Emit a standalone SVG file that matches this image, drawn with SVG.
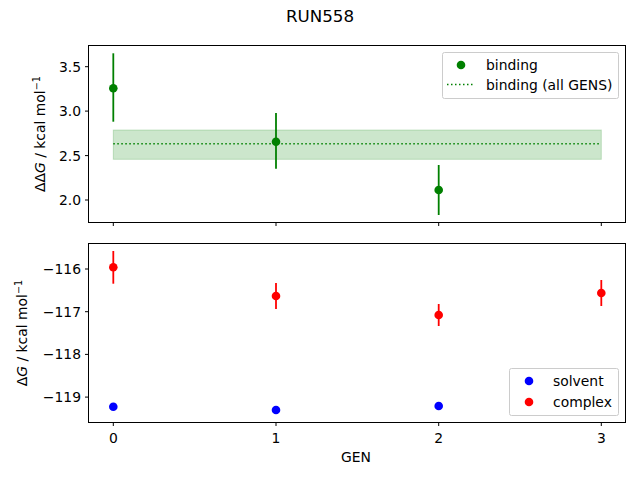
<svg xmlns="http://www.w3.org/2000/svg" width="640" height="480" viewBox="0 0 640 480">
<style>
text{font-family:"DejaVu Sans",sans-serif;font-size:13.9px;fill:#000}
.ax{fill:none;stroke:#000;stroke-width:1}
.tk{stroke:#000;stroke-width:1}
.eg{stroke:#008000;stroke-width:1.8}
.er{stroke:#ff0000;stroke-width:1.8}
.r{text-anchor:end}
.m{text-anchor:middle}
</style>
<rect width="640" height="480" fill="#fff"/>
<text x="320" y="22" class="m" style="font-size:16.7px">RUN558</text>
<g id="top">
<rect x="113.3" y="130" width="488" height="29.3" fill="#008000" fill-opacity="0.2" stroke="#008000" stroke-opacity="0.2"/>
<line x1="113.3" y1="143.7" x2="601.3" y2="143.7" stroke="#008000" stroke-width="1.5" stroke-dasharray="1.5,2.5"/>
<line class="eg" x1="113.3" y1="53.3" x2="113.3" y2="121.7"/>
<line class="eg" x1="276" y1="113" x2="276" y2="168.7"/>
<line class="eg" x1="438.7" y1="165" x2="438.7" y2="215"/>
<circle cx="113.3" cy="88.3" r="4.3" fill="#008000"/>
<circle cx="276" cy="141.7" r="4.3" fill="#008000"/>
<circle cx="438.7" cy="190" r="4.3" fill="#008000"/>
<rect class="ax" x="88.5" y="45.5" width="537" height="177"/>
<g class="tk">
<line x1="88.5" y1="66.7" x2="85" y2="66.7"/><line x1="88.5" y1="111.1" x2="85" y2="111.1"/>
<line x1="88.5" y1="155.6" x2="85" y2="155.6"/><line x1="88.5" y1="200" x2="85" y2="200"/>
<line x1="113.3" y1="222.5" x2="113.3" y2="226"/><line x1="276" y1="222.5" x2="276" y2="226"/>
<line x1="438.7" y1="222.5" x2="438.7" y2="226"/><line x1="601.3" y1="222.5" x2="601.3" y2="226"/>
</g>
<text x="81" y="71.7" class="r">3.5</text><text x="81" y="116.1" class="r">3.0</text>
<text x="81" y="160.6" class="r">2.5</text><text x="81" y="205" class="r">2.0</text>
<text transform="translate(45,134) rotate(-90)" class="m">ΔΔ<tspan font-style="italic">G</tspan> / kcal mol<tspan dy="-5" style="font-size:9.7px">−1</tspan></text>
<g id="legend-top">
<rect x="442.5" y="52.5" width="176" height="46" rx="2" fill="#fff" fill-opacity="0.8" stroke="#ccc"/>
<circle cx="461" cy="65" r="4.3" fill="#008000"/>
<text x="486" y="70">binding</text>
<line x1="447" y1="84.5" x2="475" y2="84.5" stroke="#008000" stroke-width="1.5" stroke-dasharray="1.5,2.5"/>
<text x="486" y="90">binding (all GENS)</text>
</g>
</g>
<g id="bottom">
<line class="er" x1="113.3" y1="251" x2="113.3" y2="283.7"/>
<line class="er" x1="276" y1="283" x2="276" y2="309"/>
<line class="er" x1="438.7" y1="304" x2="438.7" y2="326"/>
<line class="er" x1="601.3" y1="280" x2="601.3" y2="306"/>
<circle cx="113.3" cy="406.7" r="4.3" fill="#0000ff"/>
<circle cx="276" cy="410" r="4.3" fill="#0000ff"/>
<circle cx="438.7" cy="406" r="4.3" fill="#0000ff"/>
<circle cx="113.3" cy="267.3" r="4.3" fill="#ff0000"/>
<circle cx="276" cy="296" r="4.3" fill="#ff0000"/>
<circle cx="438.7" cy="315" r="4.3" fill="#ff0000"/>
<circle cx="601.3" cy="293" r="4.3" fill="#ff0000"/>
<rect class="ax" x="88.5" y="243.5" width="537" height="179"/>
<g class="tk">
<line x1="88.5" y1="269" x2="85" y2="269"/><line x1="88.5" y1="311.7" x2="85" y2="311.7"/>
<line x1="88.5" y1="354.4" x2="85" y2="354.4"/><line x1="88.5" y1="397.1" x2="85" y2="397.1"/>
<line x1="113.3" y1="422.5" x2="113.3" y2="426"/><line x1="276" y1="422.5" x2="276" y2="426"/>
<line x1="438.7" y1="422.5" x2="438.7" y2="426"/><line x1="601.3" y1="422.5" x2="601.3" y2="426"/>
</g>
<text x="81" y="274" class="r">−116</text><text x="81" y="316.7" class="r">−117</text>
<text x="81" y="359.4" class="r">−118</text><text x="81" y="402.1" class="r">−119</text>
<text x="113.3" y="443" class="m">0</text><text x="276" y="443" class="m">1</text>
<text x="438.7" y="443" class="m">2</text><text x="601.3" y="443" class="m">3</text>
<text x="356" y="462" class="m">GEN</text>
<text transform="translate(27,333) rotate(-90)" class="m">Δ<tspan font-style="italic">G</tspan> / kcal mol<tspan dy="-5" style="font-size:9.7px">−1</tspan></text>
<g id="legend-bottom">
<rect x="509.5" y="368.5" width="109" height="47" rx="2" fill="#fff" fill-opacity="0.8" stroke="#ccc"/>
<circle cx="529" cy="381" r="4.3" fill="#0000ff"/>
<text x="553" y="386">solvent</text>
<circle cx="529" cy="402" r="4.3" fill="#ff0000"/>
<text x="553" y="407">complex</text>
</g>
</g>
</svg>
